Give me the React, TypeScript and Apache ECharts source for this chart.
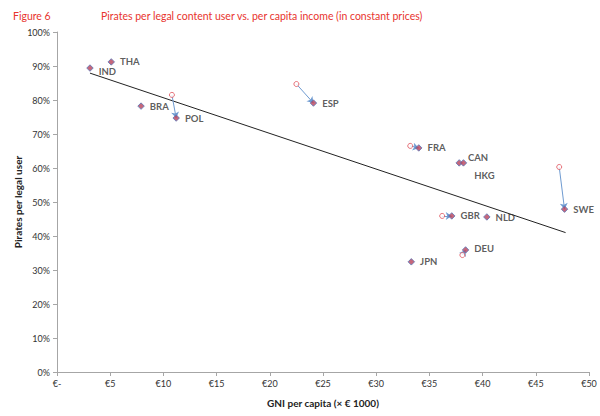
import { useEffect, useRef } from "react";
import * as echarts from "echarts";

// GNI per capita (x €1000) and pirates per legal user (%), current values
const countries = ["IND", "THA", "BRA", "POL", "ESP", "FRA", "CAN", "HKG", "SWE", "GBR", "NLD", "DEU", "JPN"];
const gni = [3.1, 5.1, 7.9, 11.2, 24.1, 34.0, 37.8, 38.2, 47.7, 37.1, 40.4, 38.4, 33.3];
const pirates = [89.4, 91.2, 78.2, 74.7, 79.1, 65.9, 61.5, 61.5, 47.9, 45.9, 45.6, 35.9, 32.4];

// earlier values (hollow markers), only for some countries
const prevCountries = ["POL", "ESP", "FRA", "SWE", "GBR", "DEU"];
const prevGni = [10.8, 22.5, 33.2, 47.2, 36.2, 38.1];
const prevPirates = [81.5, 84.7, 66.5, 60.3, 45.9, 34.4];

// trend line end points
const trendX = [3.1, 47.8];
const trendY = [87.9, 41.0];

const xTicks = [0, 5, 10, 15, 20, 25, 30, 35, 40, 45, 50];

// label nudges per country (px)
const labelNudge: Record<string, [number, number]> = {
  IND: [0, 3],
  CAN: [0, -5],
  HKG: [2, 13],
  NLD: [0, 1],
  DEU: [0, -1],
};

const FONT = "Lato, 'Open Sans', sans-serif";
const RED = "#e8342e";

export default function App() {
  const chartRef = useRef<HTMLDivElement>(null);

  useEffect(() => {
    if (!chartRef.current) return;
    const chart = echarts.init(chartRef.current, undefined, { renderer: "svg" });

    const current = countries.map((c, i) => ({
      name: c,
      value: [gni[i], pirates[i]],
      label: { offset: labelNudge[c] || [0, 0] },
    }));
    const previous = prevCountries.map((c, i) => ({ name: c, value: [prevGni[i], prevPirates[i]] }));
    const arrows = prevCountries.map((c, i) => {
      const j = countries.indexOf(c);
      return { coords: [[prevGni[i], prevPirates[i]], [gni[j], pirates[j]]] };
    });

    chart.setOption({
      animation: false,
      textStyle: { fontFamily: FONT },
      title: [
        { text: "Figure 6", left: 8, top: 5, textStyle: { color: RED, fontSize: 10.5, fontWeight: "normal", fontFamily: FONT } },
        {
          text: "Pirates per legal content user vs. per capita income (in constant prices)",
          left: 96,
          top: 5,
          textStyle: { color: RED, fontSize: 10.5, fontWeight: "normal", fontFamily: FONT },
        },
      ],
      grid: { left: 57, right: 11, top: 32, bottom: 44 },
      xAxis: {
        type: "value",
        min: 0,
        max: 50,
        interval: 5,
        name: "GNI per capita (× € 1000)",
        nameLocation: "middle",
        nameGap: 26,
        nameMoveOverlap: false,
        nameTextStyle: { fontSize: 10, fontWeight: "bold", color: "#222", fontFamily: FONT },
        axisLine: { show: true, lineStyle: { color: "#a6a6a6" } },
        axisTick: { show: true, length: 4, lineStyle: { color: "#a6a6a6" } },
        splitLine: { show: false },
        axisLabel: {
          fontSize: 9,
          color: "#333",
          margin: 7,
          customValues: xTicks,
          formatter: (v: number) => (v === 0 ? "€-" : "€" + v),
        },
      },
      yAxis: {
        type: "value",
        min: 0,
        max: 100,
        interval: 10,
        name: "Pirates per legal user",
        nameLocation: "middle",
        nameGap: 34,
        nameMoveOverlap: false,
        nameTextStyle: { fontSize: 10, fontWeight: "bold", color: "#222", fontFamily: FONT },
        axisLine: { show: true, lineStyle: { color: "#a6a6a6" } },
        axisTick: { show: true, length: 4, lineStyle: { color: "#a6a6a6" } },
        splitLine: { show: false },
        axisLabel: { fontSize: 9, color: "#333", margin: 7, formatter: "{value}%" },
      },
      series: [
        {
          type: "line",
          data: trendX.map((x, i) => [x, trendY[i]]),
          symbol: "none",
          lineStyle: { color: "#222", width: 1 },
          z: 1,
        },
        {
          type: "lines",
          coordinateSystem: "cartesian2d",
          data: arrows,
          symbol: ["none", "arrow"],
          symbolSize: [0, 6],
          lineStyle: { color: "#6f9bd1", width: 1, opacity: 1 },
          z: 2,
        },
        {
          type: "scatter",
          data: previous,
          symbol: "circle",
          symbolSize: 5,
          itemStyle: { color: "#fff", borderColor: "#e0505a", borderWidth: 1 },
          z: 3,
        },
        {
          type: "scatter",
          data: current,
          symbol: "diamond",
          symbolSize: 6.5,
          itemStyle: { color: "#b8415a", borderColor: "#5a78b8", borderWidth: 1 },
          label: {
            show: true,
            position: "right",
            distance: 5,
            formatter: "{b}",
            fontSize: 9.5,
            fontWeight: "bold",
            color: "#333",
            fontFamily: FONT,
          },
          z: 4,
        },
      ],
    });

    return () => chart.dispose();
  }, []);

  return <div ref={chartRef} style={{ position: "absolute", left: 0, top: 0, width: 600, height: 416 }} />;
}
